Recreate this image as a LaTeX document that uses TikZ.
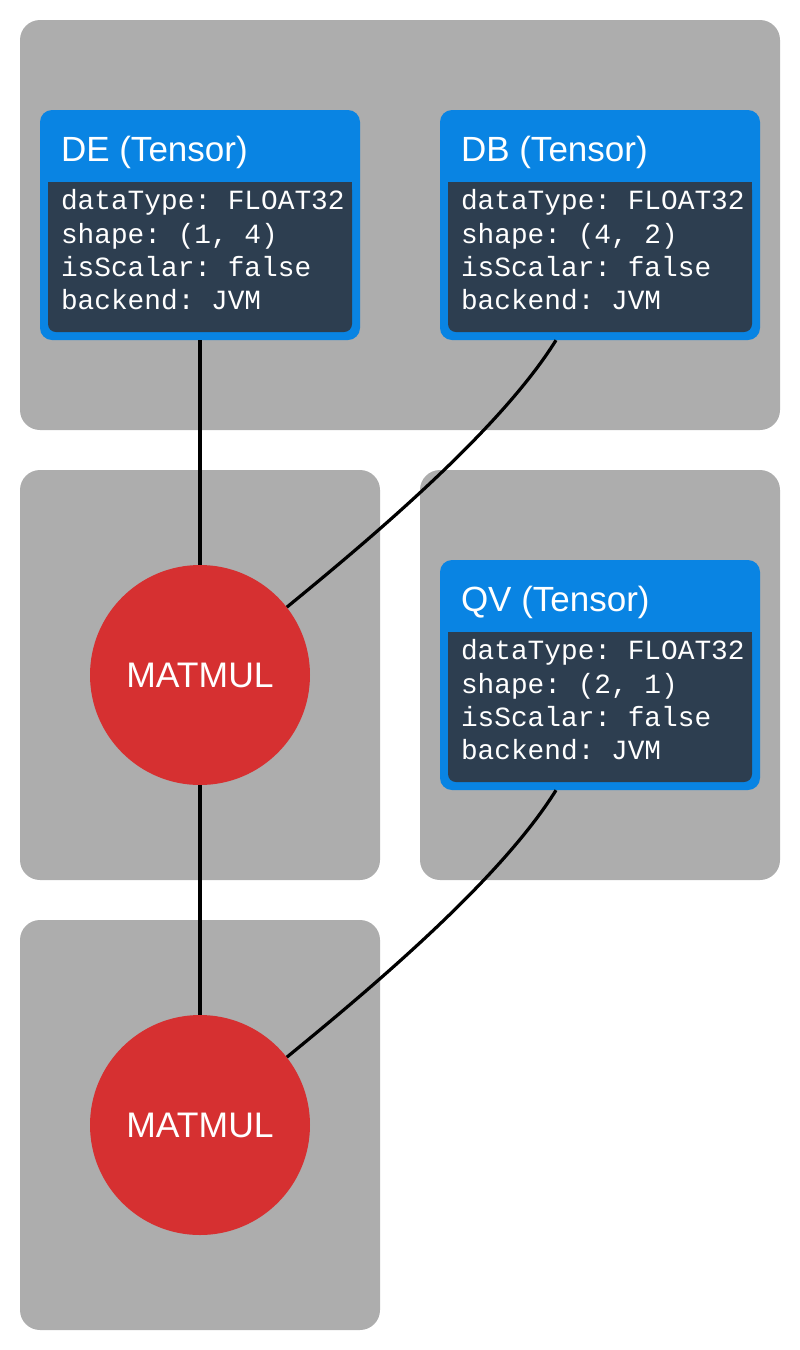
\documentclass[tikz,border=0pt]{standalone}
\usepackage{fontspec}
\setmainfont{Liberation Sans}
\setmonofont{Liberation Mono}
\usepackage{xcolor}
\usepackage{tikz}
\usetikzlibrary{positioning,shapes.geometric}

\definecolor{clustergray}{HTML}{ADADAD}
\definecolor{tensorblue}{HTML}{0984E3}
\definecolor{tensordark}{HTML}{2D3E50}
\definecolor{opred}{HTML}{D63031}

\begin{document}
\begin{tikzpicture}[x=1pt, y=-1pt,
  cluster/.style={fill=clustergray, rounded corners=20pt, inner sep=0pt},
  tensor/.style={fill=tensorblue, rounded corners=12pt, minimum width=320pt, minimum height=230pt, inner sep=0pt},
  tbody/.style={fill=tensordark, rounded corners=8pt, minimum width=304pt, minimum height=150pt, inner sep=0pt},
  ttitle/.style={anchor=base west, text=white, font=\fontsize{35}{40}\selectfont, inner sep=0pt},
  tprops/.style={anchor=base west, align=left, text=white, font=\ttfamily\fontsize{27.8}{33.3}\selectfont, inner sep=0pt},
  matmul/.style={circle, fill=opred, minimum size=220pt, inner sep=0pt, text=white, font=\fontsize{35.5}{40}\selectfont},
  wire/.style={line width=3.2pt, black}
]
\useasboundingbox (0,0) rectangle (800,1350);

% clusters
\node[cluster, minimum width=760pt, minimum height=410pt] (inputs) at (400,225) {};
\node[cluster, minimum width=360pt, minimum height=410pt] (step1) at (200,675) {};
\node[cluster, minimum width=360pt, minimum height=410pt] (weights) at (600,675) {};
\node[cluster, minimum width=360pt, minimum height=410pt] (step2) at (200,1125) {};

% tensors
\node[tensor] (de) at (200,225) {};
\node[tensor] (db) at (600,225) {};
\node[tensor] (qv) at (600,675) {};
\node[tbody, below=72pt of de.north] (de-body) {};
\node[tbody, below=72pt of db.north] (db-body) {};
\node[tbody, below=72pt of qv.north] (qv-body) {};
\foreach \t in {de,db,qv}
  \fill[tensordark] (\t-body.north west) rectangle ([yshift=-10pt]\t-body.north east);

\node[ttitle] (de-title) at ([xshift=21pt,yshift=-52pt]de.north west) {DE (Tensor)};
\node[ttitle] (db-title) at ([xshift=21pt,yshift=-52pt]db.north west) {DB (Tensor)};
\node[ttitle] (qv-title) at ([xshift=21pt,yshift=-52pt]qv.north west) {QV (Tensor)};
% base of a multi-line node is its last line
\node[tprops] (de-props) at ([xshift=13pt,yshift=-128pt]de-body.north west)
  {dataType: FLOAT32\\shape: (1, 4)\\isScalar: false\\backend: JVM};
\node[tprops] (db-props) at ([xshift=13pt,yshift=-128pt]db-body.north west)
  {dataType: FLOAT32\\shape: (4, 2)\\isScalar: false\\backend: JVM};
\node[tprops] (qv-props) at ([xshift=13pt,yshift=-128pt]qv-body.north west)
  {dataType: FLOAT32\\shape: (2, 1)\\isScalar: false\\backend: JVM};

% operations
\node[matmul] (m1) at (200,675) {MATMUL};
\node[matmul] (m2) at (200,1125) {MATMUL};

\draw[wire] (de) -- (m1);
\draw[wire] ([xshift=-44pt]db.south) .. controls +(-56,90) and +(83,-68) .. (m1.38);
\draw[wire] (m1) -- (m2);
\draw[wire] ([xshift=-44pt]qv.south) .. controls +(-56,90) and +(83,-68) .. (m2.38);
\end{tikzpicture}
\end{document}
